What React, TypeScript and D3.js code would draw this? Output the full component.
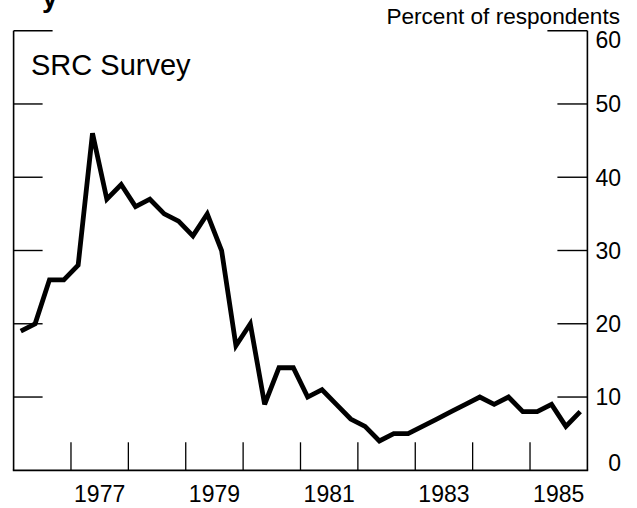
import React from "react";
import * as d3 from "d3";

const startYear = 1976;
const quarterlyValues: number[] = [
  19, 20, 26, 26,
  28, 46, 37, 39,
  36, 37, 35, 34,
  32, 35, 30, 17,
  20, 9, 14, 14,
  10, 11, 9, 7,
  6, 4, 5, 5,
  6, 7, 8, 9,
  10, 9, 10, 8,
  8, 9, 6, 8,
];
const yTickValues = [0, 10, 20, 30, 40, 50, 60];
const yearTicks = [1977, 1978, 1979, 1980, 1981, 1982, 1983, 1984, 1985];
const yearLabels = [1977, 1979, 1981, 1983, 1985];

const W = 637;
const H = 508;
const FONT = "'Liberation Sans', Arial, Helvetica, sans-serif";

export default function App() {
  const x = d3.scaleLinear().domain([1976, 1986]).range([13.6, 587.4]);
  const y = d3.scaleLinear().domain([0, 60]).range([470.3, 30.7]);

  const pts: [number, number][] = quarterlyValues.map((v, i) => [
    x(startYear + (i + 0.5) / 4),
    y(v),
  ]);
  const line = d3.line<[number, number]>().x((d) => d[0]).y((d) => d[1]);

  const left = x(1976);
  const right = x(1986);
  const bottom = y(0);
  const top = y(60);

  return (
    <svg
      width={W}
      height={H}
      viewBox={`0 0 ${W} ${H}`}
      style={{ position: "absolute", left: 0, top: 0, background: "#fff" }}
    >
      <rect x={0} y={0} width={W} height={H} fill="#fff" />
      {/* cut-off title remnant */}
      <text x={42} y={7} fontFamily={FONT} fontSize={28} fontWeight="bold" fill="#000">
        y
      </text>
      <text x={620} y={24} textAnchor="end" fontFamily={FONT} fontSize={22.6} fill="#000">
        Percent of respondents
      </text>
      <text x={31} y={75} fontFamily={FONT} fontSize={29} fill="#000">
        SRC Survey
      </text>

      {/* axes frame */}
      <line x1={left} y1={top} x2={left} y2={bottom} stroke="#000" strokeWidth={1.6} />
      <line x1={right} y1={top} x2={right} y2={bottom} stroke="#000" strokeWidth={1.6} />
      <line x1={left - 0.8} y1={bottom} x2={right + 0.8} y2={bottom} stroke="#000" strokeWidth={1.8} />

      {/* y ticks */}
      {yTickValues
        .filter((v) => v > 0)
        .map((v) => (
          <g key={"yt" + v}>
            <line
              x1={left}
              x2={left + (v === 60 ? 39 : 29)}
              y1={y(v)}
              y2={y(v)}
              stroke="#000"
              strokeWidth={1.4}
            />
            <line
              x1={right - (v === 60 ? 40 : 30)}
              x2={right}
              y1={y(v)}
              y2={y(v)}
              stroke="#000"
              strokeWidth={1.4}
            />
          </g>
        ))}
      {yTickValues.map((v) => {
        let cy = y(v);
        if (v === 60) cy += 9;
        if (v === 0) cy -= 8;
        return (
          <text
            key={"yl" + v}
            x={621}
            y={cy}
            dy="0.36em"
            textAnchor="end"
            fontFamily={FONT}
            fontSize={23}
            fill="#000"
          >
            {v}
          </text>
        );
      })}

      {/* x ticks */}
      {yearTicks.map((yr) => (
        <line
          key={"xt" + yr}
          x1={x(yr)}
          x2={x(yr)}
          y1={bottom}
          y2={bottom - 28}
          stroke="#000"
          strokeWidth={1.3}
        />
      ))}
      {yearLabels.map((yr) => (
        <text
          key={"xl" + yr}
          x={x(yr + 0.5)}
          y={502}
          textAnchor="middle"
          fontFamily={FONT}
          fontSize={23}
          fill="#000"
        >
          {yr}
        </text>
      ))}

      <path
        d={line(pts) || ""}
        fill="none"
        stroke="#000"
        strokeWidth={4.8}
        strokeLinejoin="miter"
        strokeMiterlimit={3}
      />
    </svg>
  );
}
